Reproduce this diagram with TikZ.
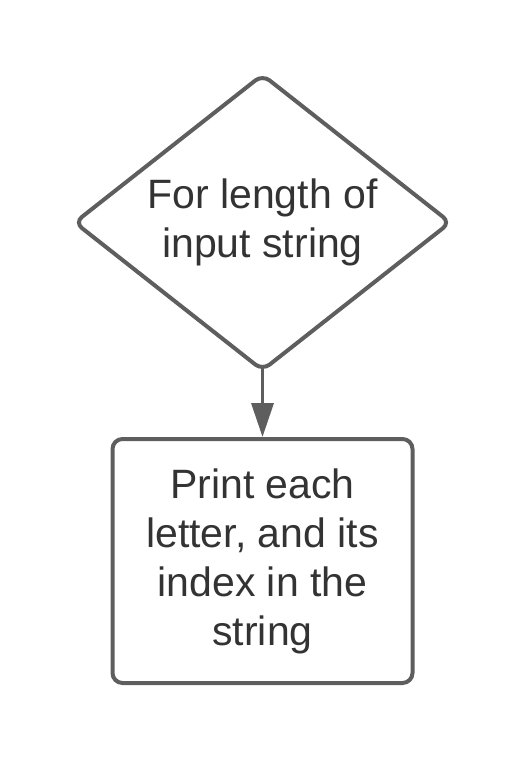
\documentclass[tikz,border=0pt]{standalone}
\usepackage{fontspec}
\setmainfont{Liberation Sans}
\usepackage{xcolor}
\usetikzlibrary{shapes.geometric,arrows.meta,positioning}
\definecolor{edgegray}{HTML}{5E5E5E}
\definecolor{textgray}{HTML}{333333}

\begin{document}
\begin{tikzpicture}[x=1pt,y=1pt,
	every node/.style={font=\fontsize{41}{49}\selectfont,text=textgray,align=center},
	decision/.style={diamond,aspect=1.27,draw=edgegray,line width=4pt,rounded corners=9pt,minimum width=377pt,minimum height=297pt,inner sep=0pt},
	process/.style={rectangle,draw=edgegray,line width=4pt,rounded corners=10pt,minimum width=300pt,minimum height=244pt,inner sep=0pt},
	flow/.style={draw=edgegray,line width=3.5pt,shorten <=-8pt,-{Triangle[length=34pt,width=22pt]}}]
	\useasboundingbox (0,0) rectangle (525,-759);
	\node[decision] (loop) at (262.5,-222.5) {For length of\\input string};
	\node[process] (print) at (262.5,-561) {Print each\\letter, and its\\index in the\\string};
	\draw[flow] (loop) -- (print);
\end{tikzpicture}
\end{document}
